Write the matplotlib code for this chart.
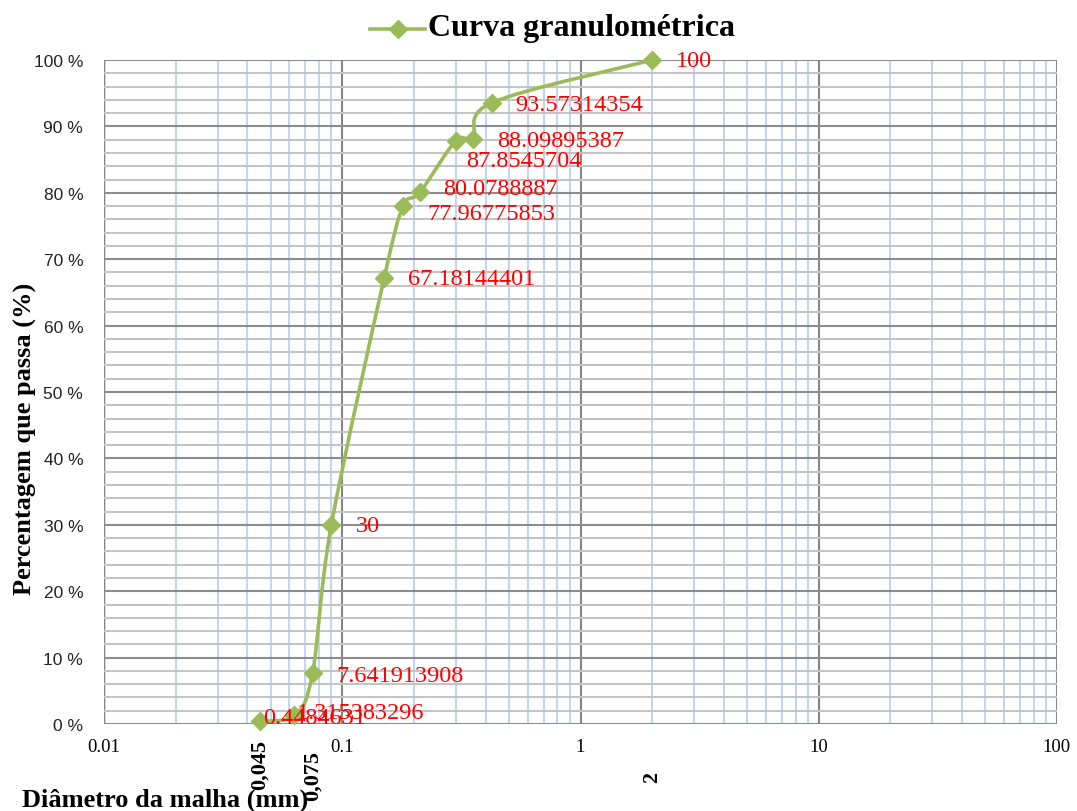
import numpy as np
import matplotlib
matplotlib.use("Agg")
import matplotlib.pyplot as plt
from matplotlib.lines import Line2D
from matplotlib.path import Path
from matplotlib.patches import PathPatch
from matplotlib.ticker import FixedLocator, FuncFormatter, NullFormatter

# abertura das peneiras (mm) e percentagem que passa
diametros = [0.045, 0.063, 0.075, 0.09, 0.15, 0.18, 0.212, 0.30, 0.355, 0.425, 2.0]
passa = [0.4484631, 1.315383296, 7.641913908, 30, 67.18144401, 77.96775853,
         80.0788887, 87.8545704, 88.09895387, 93.57314354, 100]
rotulos = ["0.4484631", "1.315383296", "7.641913908", "30", "67.18144401",
           "77.96775853", "80.0788887", "87.8545704", "88.09895387",
           "93.57314354", "100"]

# peneiras destacadas no eixo x
peneiras_marcadas = [0.045, 0.075, 2]
peneiras_texto = ["0,045", "0,075", "2"]

# deslocamento dos rótulos (px)
desloc = [(3, 4), (2, 3), (24, -2), (24, -1), (24, -1), (24, -7),
          (23, 4), (10, -20), (24, -1), (23, -2), (24, -1)]
desloc_peneira = [15, 26, 47]

verde = "#9bbb59"
serif = "Liberation Serif"

fig = plt.figure(figsize=(10.77, 8.12), dpi=100)
ax = fig.add_axes([0.0966, 0.1071, 0.8848, 0.8178])
ax.set_xscale("log")
ax.set_xlim(0.01, 100)
ax.set_ylim(0, 100)

# grelha
ax.yaxis.set_major_locator(FixedLocator(np.arange(0, 101, 10)))
ax.yaxis.set_minor_locator(FixedLocator(np.arange(0, 101, 2)))
ax.grid(True, which="major", axis="y", color="#8c8c8c", lw=1.5, zorder=1)
ax.grid(True, which="minor", axis="y", color="#c4c4c4", lw=1.5, zorder=0)
ax.grid(True, which="minor", axis="x", color="#c5d5ef", lw=1.5, zorder=0)
ax.grid(True, which="major", axis="x", color="#868686", lw=1.5, zorder=1)
for s in ax.spines.values():
    s.set_visible(False)
ax.axhline(0, color="#8c8c8c", lw=1.8, zorder=1)
ax.axvline(0.01, color="#c5d5ef", lw=1.8, zorder=0)

ax.yaxis.set_major_formatter(FuncFormatter(lambda v, p: f"{int(v)} %"))
ax.xaxis.set_major_locator(FixedLocator([0.01, 0.1, 1, 10, 100]))
ax.xaxis.set_major_formatter(FuncFormatter(lambda v, p: f"{v:g}"))
ax.xaxis.set_minor_formatter(NullFormatter())
ax.tick_params(which="both", length=0)
ax.tick_params(axis="y", pad=15, labelsize=12.5, colors="#222222")
ax.tick_params(axis="x", pad=10, labelsize=13.5)
for t in ax.get_yticklabels():
    t.set_fontfamily("Liberation Sans")
for t in ax.get_xticklabels():
    t.set_fontfamily(serif)

# curva suavizada (Bezier) em coordenadas de ecrã
pts = ax.transData.transform(np.column_stack([diametros, passa]))
verts = [pts[0]]
codes = [Path.MOVETO]
n = len(pts)
for i in range(n - 1):
    p0 = pts[max(i - 1, 0)]
    p1 = pts[i]
    p2 = pts[i + 1]
    p3 = pts[min(i + 2, n - 1)]
    c1 = p1 + (p2 - p0) / 6.0
    c2 = p2 - (p3 - p1) / 6.0
    verts += [c1, c2, p2]
    codes += [Path.CURVE4] * 3
curva = PathPatch(Path(verts, codes), transform=None, fill=False,
                  edgecolor=verde, lw=2.6, zorder=3, clip_on=False)
ax.add_artist(curva)
ax.plot(diametros, passa, ls="none", marker="D", ms=9, color=verde,
        zorder=4, clip_on=False)

for x, y, r, (dx, dy) in zip(diametros, passa, rotulos, desloc):
    ax.annotate(r, (x, y), xytext=(dx, dy), textcoords="offset pixels",
                ha="left", va="center", color="red", fontsize=17.5,
                family=serif, zorder=5)

for x, r, dy in zip(peneiras_marcadas, peneiras_texto, desloc_peneira):
    ax.annotate(r, (x, 0), xycoords=("data", "axes fraction"),
                xytext=(0, -dy), textcoords="offset pixels", rotation=90,
                ha="center", va="top", fontsize=16, fontweight="bold",
                family=serif)

fig.text(0.0232, 0.459, "Percentagem que passa (%)", rotation=90,
         ha="center", va="center", fontsize=19, fontweight="bold",
         family=serif)
fig.text(0.1532, 0.0148, "Diâmetro da malha (mm)", ha="center", va="center",
         fontsize=19, fontweight="bold", family=serif)

# título com símbolo da série
fig.text(0.397, 0.9655, "Curva granulométrica", ha="left", va="center",
         fontsize=23, fontweight="bold", family=serif)
fig.add_artist(Line2D([0.344, 0.395], [0.963, 0.963], transform=fig.transFigure,
                      color=verde, lw=2.6))
fig.add_artist(Line2D([0.3695], [0.963], transform=fig.transFigure,
                      color=verde, marker="D", ms=9))

fig.savefig("out.png", dpi=100)
